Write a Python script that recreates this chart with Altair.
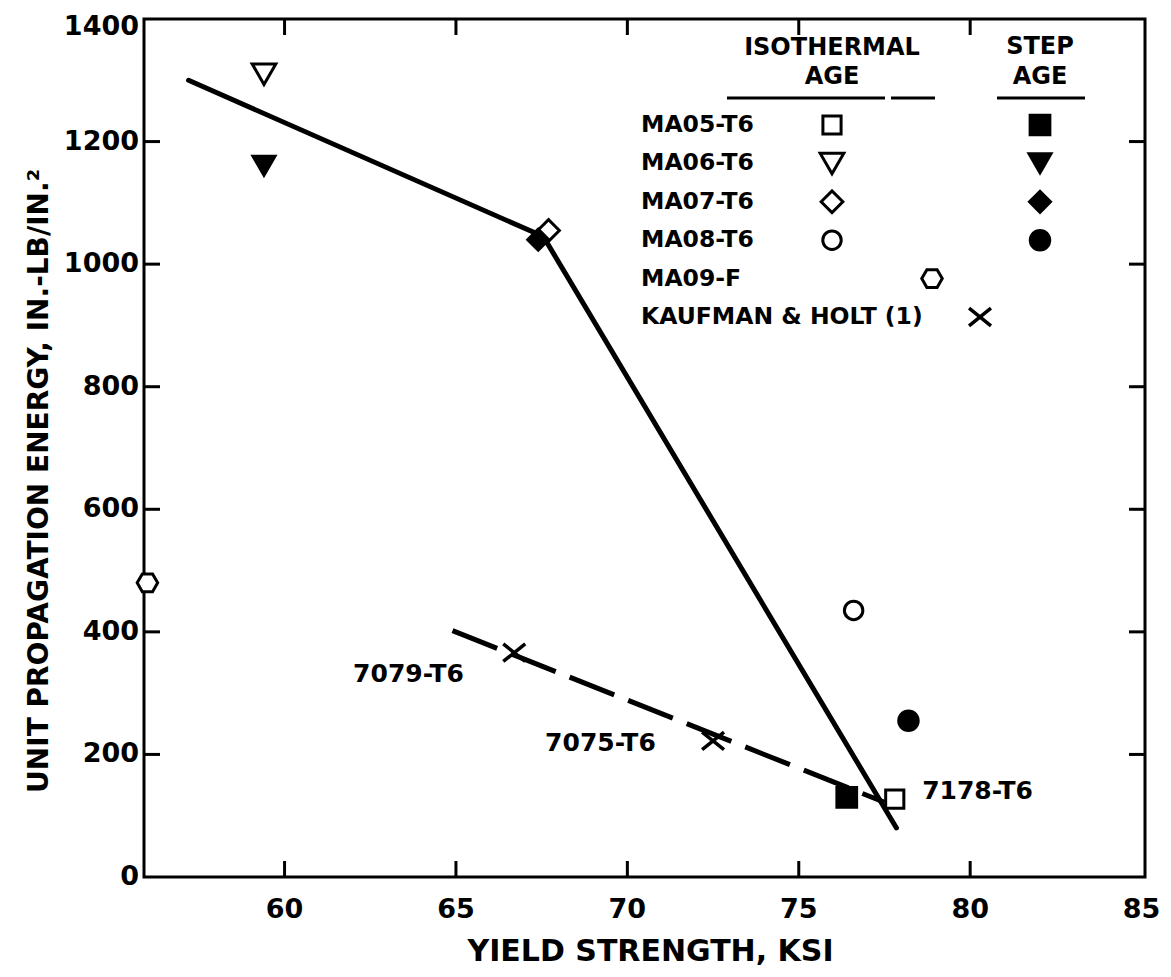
import altair as alt
import pandas as pd

# ---------------- data ----------------
iso_alloy = ["MA05-T6", "MA06-T6", "MA07-T6", "MA08-T6"]
iso_yield = [77.8, 59.4, 67.7, 76.6]
iso_energy = [127, 1310, 1055, 435]

step_alloy = ["MA05-T6", "MA06-T6", "MA07-T6", "MA08-T6"]
step_yield = [76.4, 59.4, 67.4, 78.2]
step_energy = [130, 1160, 1040, 255]

f_alloy = ["MA09-F"]
f_yield = [56.0]
f_energy = [480]

kh_alloy = ["7079-T6", "7075-T6"]
kh_yield = [66.7, 72.5]
kh_energy = [366, 222]

trend_yield = [57.2, 67.55, 77.85]
trend_energy = [1300, 1045, 80]

kh_trend_yield = [64.9, 77.5]
kh_trend_energy = [402, 122]

note_text = ["7079-T6", "7075-T6", "7178-T6"]
note_yield = [62.0, 67.6, 78.6]
note_energy = [331, 218, 140]

x_ticks = [60, 65, 70, 75, 80, 85]
y_ticks = [0, 200, 400, 600, 800, 1000, 1200, 1400]

x_title = "YIELD STRENGTH, KSI"
y_title = "UNIT PROPAGATION ENERGY, IN.-LB/IN.²"

legend_rows = ["MA05-T6", "MA06-T6", "MA07-T6", "MA08-T6", "MA09-F", "KAUFMAN & HOLT (1)"]

# ---------------- styling ----------------
FONT = "DejaVu Sans"
W, H = 1001, 858
XS = alt.Scale(domain=[55.9, 85.1], nice=False, zero=False)
YS = alt.Scale(domain=[0, 1400], nice=False, zero=False)
HEX = "M-1,0L-0.5,-0.866L0.5,-0.866L1,0L0.5,0.866L-0.5,0.866Z"
XMARK = "M-1,-0.8L1,0.8M-1,0.8L1,-0.8"
SHAPE = {"MA05-T6": "square", "MA06-T6": "triangle-down", "MA07-T6": "diamond",
         "MA08-T6": "circle", "MA09-F": HEX}
OPEN_SIZE = {"square": 330, "triangle-down": 560, "diamond": 470, "circle": 340, HEX: 420}
FILLED_SIZE = {"square": 430, "triangle-down": 560, "diamond": 500, "circle": 420}


def X(field):
    return alt.X(field, type="quantitative", scale=XS, axis=None)


def Y(field):
    return alt.Y(field, type="quantitative", scale=YS, axis=None)


def PX(field):
    return alt.X(field, type="quantitative", scale=None, axis=None)


def PY(field):
    return alt.Y(field, type="quantitative", scale=None, axis=None)


txt = dict(font=FONT, fontWeight="bold", color="black")

# trend lines
trend_df = pd.DataFrame({"ys": trend_yield, "e": trend_energy})
trend = alt.Chart(trend_df).mark_line(color="black", strokeWidth=5, strokeCap="round").encode(
    x=X("ys"), y=Y("e"))

kh_line_df = pd.DataFrame({"ys": kh_trend_yield, "e": kh_trend_energy})
kh_line = alt.Chart(kh_line_df).mark_line(color="black", strokeWidth=5, strokeDash=[48, 15]).encode(
    x=X("ys"), y=Y("e"))

# data points
iso_df = pd.DataFrame({"alloy": iso_alloy, "ys": iso_yield, "e": iso_energy})
f_df = pd.DataFrame({"alloy": f_alloy, "ys": f_yield, "e": f_energy})
open_df = pd.concat([iso_df, f_df], ignore_index=True)
open_df["shape"] = open_df["alloy"].map(SHAPE)
open_df["size"] = open_df["shape"].map(OPEN_SIZE)
open_pts = alt.Chart(open_df).mark_point(filled=True, fill="white", stroke="black", strokeWidth=3,
                                         opacity=1).encode(
    x=X("ys"), y=Y("e"),
    shape=alt.Shape("shape:N", scale=None),
    size=alt.Size("size:Q", scale=None))

step_df = pd.DataFrame({"alloy": step_alloy, "ys": step_yield, "e": step_energy})
step_df["shape"] = step_df["alloy"].map(SHAPE)
step_df["size"] = step_df["shape"].map(FILLED_SIZE)
step_pts = alt.Chart(step_df).mark_point(filled=True, fill="black", stroke="black", strokeWidth=2,
                                         opacity=1).encode(
    x=X("ys"), y=Y("e"),
    shape=alt.Shape("shape:N", scale=None),
    size=alt.Size("size:Q", scale=None))

kh_df = pd.DataFrame({"alloy": kh_alloy, "ys": kh_yield, "e": kh_energy})
kh_pts = alt.Chart(kh_df).mark_point(shape=XMARK, size=480, stroke="black", strokeWidth=3.5,
                                     filled=False, opacity=1).encode(x=X("ys"), y=Y("e"))

note_df = pd.DataFrame({"t": note_text, "ys": note_yield, "e": note_energy})
notes = alt.Chart(note_df).mark_text(fontSize=25, align="left", baseline="middle", **txt).encode(
    x=X("ys"), y=Y("e"), text="t:N")

# ---------------- axes: inward ticks, tick labels, titles ----------------
TL = 16
xt_df = pd.DataFrame({"v": x_ticks[:-1]})
yt_df = pd.DataFrame({"v": y_ticks[1:-1]})
tick_kw = dict(color="black", strokeWidth=3)
ticks_bottom = alt.Chart(xt_df).mark_rule(**tick_kw).encode(x=X("v"), y=alt.value(H - TL), y2=alt.value(H))
ticks_top = alt.Chart(xt_df).mark_rule(**tick_kw).encode(x=X("v"), y=alt.value(0), y2=alt.value(TL))
ticks_left = alt.Chart(yt_df).mark_rule(**tick_kw).encode(y=Y("v"), x=alt.value(0), x2=alt.value(TL))
ticks_right = alt.Chart(yt_df).mark_rule(**tick_kw).encode(y=Y("v"), x=alt.value(W - TL), x2=alt.value(W))

xl_df = pd.DataFrame({"v": x_ticks})
x_labels = alt.Chart(xl_df).mark_text(fontSize=27, align="center", baseline="middle", **txt).encode(
    x=X("v"), y=alt.value(H + 33), text=alt.Text("v:Q", format="d"))
yl_df = pd.DataFrame({"v": y_ticks})
y_labels = alt.Chart(yl_df).transform_filter("datum.v < 1400").mark_text(
    fontSize=27, align="right", baseline="middle", **txt).encode(
    y=Y("v"), x=alt.value(-5), text=alt.Text("v:Q", format="d"))
y_label_top = alt.Chart(yl_df).transform_filter("datum.v >= 1400").mark_text(
    fontSize=27, align="right", baseline="middle", dy=8, **txt).encode(
    y=Y("v"), x=alt.value(-5), text=alt.Text("v:Q", format="d"))

xtitle = alt.Chart(pd.DataFrame({"t": [x_title]})).mark_text(
    fontSize=30, align="center", baseline="middle", **txt).encode(
    x=alt.value(W / 2 + 6), y=alt.value(H + 75), text="t:N")
ytitle = alt.Chart(pd.DataFrame({"t": [y_title]})).mark_text(
    fontSize=28, align="center", baseline="middle", angle=270, **txt).encode(
    x=alt.value(-104), y=alt.value(462), text="t:N")

# ---------------- legend (pixel layout inside plot) ----------------
ROW0, ROWSTEP = 106, 38.4
LBL_X, ISO_X, STEP_X, HEX_X, XM_X = 497, 688, 896, 788, 836
row_y = [ROW0 + i * ROWSTEP for i in range(len(legend_rows))]

leg_lbl_df = pd.DataFrame({"t": legend_rows, "px": [LBL_X] * len(legend_rows), "py": row_y})
leg_labels = alt.Chart(leg_lbl_df).mark_text(fontSize=23.5, align="left", baseline="middle", **txt).encode(
    x=PX("px"), y=PY("py"), text="t:N")

hdr_df = pd.DataFrame({"t": ["ISOTHERMAL", "AGE", "STEP", "AGE"],
                       "px": [ISO_X, ISO_X, STEP_X, STEP_X],
                       "py": [29, 58, 28, 58]})
headers = alt.Chart(hdr_df).mark_text(fontSize=24, align="center", baseline="middle", **txt).encode(
    x=PX("px"), y=PY("py"), text="t:N")

ul_df = pd.DataFrame({"px": [583, 747, 853], "px2": [741, 791, 941], "py": [79, 79, 79]})
underlines = alt.Chart(ul_df).mark_rule(color="black", strokeWidth=3).encode(
    x=PX("px"), x2="px2:Q", y=PY("py"))

leg_open = pd.DataFrame({"alloy": iso_alloy + f_alloy,
                         "px": [ISO_X] * len(iso_alloy) + [HEX_X],
                         "py": row_y[:len(iso_alloy) + 1]})
leg_open["shape"] = leg_open["alloy"].map(SHAPE)
leg_open["size"] = leg_open["shape"].map(OPEN_SIZE)
leg_open_pts = alt.Chart(leg_open).mark_point(filled=True, fill="white", stroke="black", strokeWidth=3,
                                              opacity=1).encode(
    x=PX("px"), y=PY("py"),
    shape=alt.Shape("shape:N", scale=None), size=alt.Size("size:Q", scale=None))

leg_step = pd.DataFrame({"alloy": step_alloy, "px": [STEP_X] * len(step_alloy),
                         "py": row_y[:len(step_alloy)]})
leg_step["shape"] = leg_step["alloy"].map(SHAPE)
leg_step["size"] = leg_step["shape"].map(FILLED_SIZE)
leg_step_pts = alt.Chart(leg_step).mark_point(filled=True, fill="black", stroke="black", strokeWidth=2,
                                              opacity=1).encode(
    x=PX("px"), y=PY("py"),
    shape=alt.Shape("shape:N", scale=None), size=alt.Size("size:Q", scale=None))

leg_x = pd.DataFrame({"px": [XM_X], "py": [row_y[-1]]})
leg_x_pt = alt.Chart(leg_x).mark_point(shape=XMARK, size=480, stroke="black", strokeWidth=3.5,
                                       filled=False, opacity=1).encode(x=PX("px"), y=PY("py"))

chart = alt.layer(
    trend, kh_line, ticks_bottom, ticks_top, ticks_left, ticks_right,
    x_labels, y_labels, y_label_top, xtitle, ytitle,
    open_pts, step_pts, kh_pts, notes,
    underlines, headers, leg_labels, leg_open_pts, leg_step_pts, leg_x_pt,
).properties(
    width=W, height=H,
    autosize=alt.AutoSizeParams(type="none"),
    padding={"left": 136, "top": 11, "right": 18, "bottom": 92},
    background="white",
).configure_view(stroke="black", strokeWidth=3)

chart.save("out.html", embed_options={"renderer": "svg", "actions": False})
